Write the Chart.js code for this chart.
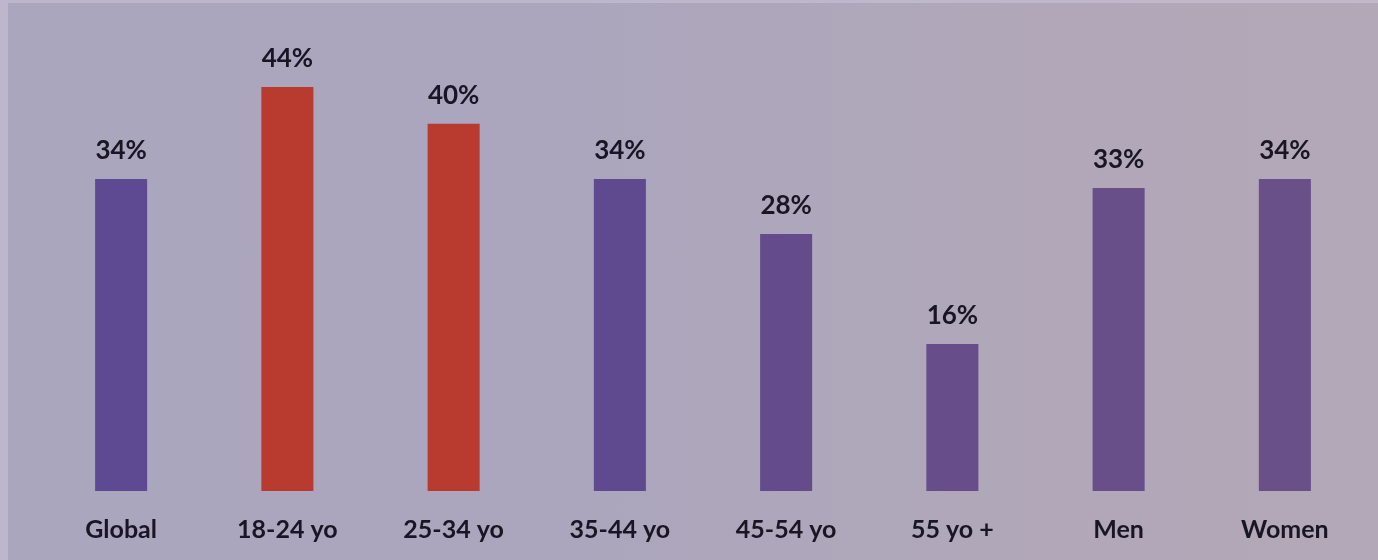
<!DOCTYPE html>
<html>
<head>
<meta charset="utf-8">
<script src="https://cdn.jsdelivr.net/npm/chart.js@4"></script>
<style>
  html, body { margin: 0; padding: 0; }
  body {
    width: 1378px; height: 560px; overflow: hidden; position: relative;
    background: linear-gradient(90deg, #aaa6be 0%, #aba6bd 40%, #b0a7b9 70%, #b3a8b7 100%);
  }
  .wrap {
    position: absolute; left: 0; top: 0; width: 1378px; height: 560px; overflow: hidden;
    box-shadow: inset 8px 3px 0 rgba(210, 205, 225, 0.45);
  }
  canvas { position: absolute; left: 0; top: 0; }
</style>
</head>
<body>
<div class="wrap">
  <canvas id="myChart" width="1378" height="587"></canvas>
</div>
<script>
const labels = ['Global', '18-24 yo', '25-34 yo', '35-44 yo', '45-54 yo', '55 yo +', 'Men', 'Women'];
const values = [34, 44, 40, 34, 28, 16, 33, 34];
const barColors = ['#5d4a93', '#b93b2f', '#b93b2f', '#5f4a90', '#634b8c', '#674d89', '#684f89', '#6a5089'];

// draw the % labels above each bar
const valueLabels = {
    id: 'valueLabels',
    afterDatasetsDraw(chart) {
        const ctx = chart.ctx;
        const meta = chart.getDatasetMeta(0);
        ctx.save();
        ctx.font = 'bold 26px Lato';
        ctx.fillStyle = '#1a1524';
        ctx.textAlign = 'center';
        ctx.textBaseline = 'alphabetic';
        meta.data.forEach((bar, i) => {
            ctx.fillText(values[i] + '%', bar.x, bar.y - 20);
        });
        ctx.restore();
    }
};

const ctx = document.getElementById('myChart').getContext('2d');

new Chart(ctx, {
    type: 'bar',
    data: {
        labels: labels,
        datasets: [{
            data: values,
            backgroundColor: barColors,
            categoryPercentage: 1,
            barPercentage: 0.313
        }]
    },
    options: {
        responsive: false,
        animation: false,
        layout: { padding: { left: 38, right: 10, top: 32, bottom: 18 } },
        plugins: {
            legend: { display: false },
            tooltip: { enabled: false }
        },
        scales: {
            y: {
                display: false,
                min: 0,
                max: 50
            },
            x: {
                grid: { display: false, drawTicks: false },
                border: { display: false },
                ticks: {
                    padding: 24,
                    color: '#1a1524',
                    font: { family: 'Lato', weight: 'bold', size: 25 }
                }
            }
        }
    },
    plugins: [valueLabels]
});
</script>
</body>
</html>
